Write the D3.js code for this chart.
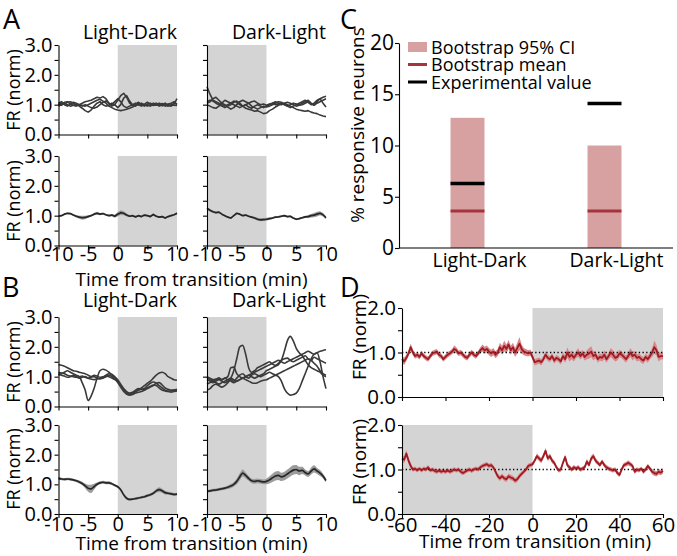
<!DOCTYPE html>
<html><head><meta charset="utf-8">
<script src="https://cdn.jsdelivr.net/npm/d3@7"></script>
<style>
body{margin:0;background:#fff;}
svg{font-family:"Open Sans",sans-serif;display:block;}
</style></head><body>
<svg id="c" width="677" height="556"></svg>
<script>
// ---------------- DATA ----------------
const tMin = d3.range(-10, 10.001, 0.5);   // sample times (min), panels A & B
const tHour = d3.range(-60, 60.001, 1);    // sample times (min), panel D
const xTicksShort = [-10, -5, 0, 5, 10];
const xTicksLong = [-60, -40, -20, 0, 20, 40, 60];
const yTicksFR3 = [0, 0.5, 1, 1.5, 2, 2.5, 3];
const yLabelsFR3 = [0, 1, 2, 3];
const yTicksFR2 = [0, 0.5, 1, 1.5, 2];
const yLabelsFR2 = [0, 1, 2];
const conditions = ["Light-Dark", "Dark-Light"];

// Panel A: example neurons (individual traces)
const aLD1 = [1.0,1.05,1.02,1.08,1.1,1.05,0.98,1.0,1.05,1.1,1.12,1.15,1.2,1.25,1.22,1.27,1.2,1.05,0.95,1.0,1.15,1.3,1.38,1.25,1.05,0.98,1.02,1.08,1.0,0.95,1.02,1.05,0.98,1.02,0.95,1.0,1.05,0.98,0.95,1.02,1.2];
const aLD2 = [1.02,0.98,1.05,1.0,0.95,0.98,1.02,0.95,0.88,0.8,0.75,0.82,0.95,1.05,1.1,1.0,0.95,0.98,1.05,1.0,0.9,1.0,1.22,1.3,1.12,1.0,0.95,1.05,1.02,0.98,1.0,0.95,1.02,1.05,1.0,0.96,1.03,1.0,0.97,1.05,1.02];
const aLD3 = [0.95,1.0,1.08,1.1,1.02,0.98,0.95,1.0,0.98,0.95,1.0,1.05,1.1,1.15,1.18,1.12,1.05,0.95,0.9,0.85,0.82,0.8,0.82,0.85,0.88,0.92,0.98,1.0,1.05,1.0,0.95,1.0,1.05,0.98,1.0,1.04,0.98,0.95,1.0,0.98,0.97];
const aLD4 = [1.05,1.1,1.0,0.95,1.02,1.08,1.05,1.0,0.95,1.0,0.95,0.9,0.88,0.92,1.0,1.08,1.12,1.05,1.0,1.1,1.2,1.1,0.95,0.9,0.95,1.0,1.05,1.0,0.95,1.02,1.08,1.02,0.97,1.0,1.05,1.0,0.95,1.02,1.05,1.1,1.0];
const aDL1 = [1.6,1.35,1.15,1.1,1.05,1.0,0.95,1.0,1.05,1.0,0.95,0.9,0.95,1.0,0.92,0.88,0.95,1.0,0.95,0.9,0.95,1.0,1.05,1.0,1.02,1.05,1.0,0.95,1.0,1.05,1.02,0.98,1.05,1.1,1.15,1.05,1.0,1.1,1.2,1.25,1.28];
const aDL2 = [1.1,1.15,1.12,1.05,1.0,0.95,0.9,0.95,1.0,1.08,1.12,1.05,0.95,0.88,0.85,0.82,0.78,0.8,0.75,0.7,0.72,0.8,0.85,0.92,0.98,1.02,1.05,1.0,0.95,0.9,0.85,0.82,0.8,0.78,0.8,0.75,0.72,0.7,0.65,0.62,0.6];
const aDL3 = [1.05,1.1,1.2,1.25,1.15,1.05,1.0,0.92,0.85,0.9,1.0,1.1,1.15,1.1,1.05,0.95,0.9,0.85,0.9,0.95,0.92,0.95,1.0,1.05,1.1,1.08,1.02,0.95,0.9,0.95,1.0,1.05,1.1,1.15,1.08,1.0,1.05,1.15,1.2,1.05,0.92];
const aDL4 = [1.0,0.95,0.9,0.88,0.95,1.05,1.15,1.1,1.05,1.12,1.08,1.0,0.95,1.0,1.05,1.1,1.12,1.05,1.0,1.02,0.98,1.02,1.05,1.1,1.05,1.0,1.05,1.08,1.05,1.0,0.95,0.98,1.0,1.05,1.1,1.02,0.98,1.05,1.1,1.15,1.2];
// Panel A: population mean +/- sem
const aMeanLD = [0.98,1.0,1.05,1.08,1.07,1.02,0.98,0.95,0.93,0.94,0.97,1.0,1.05,1.08,1.05,1.07,1.03,1.0,1.02,0.98,1.05,1.1,1.08,1.02,0.98,1.0,0.96,1.0,0.97,1.02,1.0,0.97,1.04,0.98,0.95,0.97,0.92,0.97,1.0,1.03,1.08];
const aSemLD = [0.03,0.03,0.03,0.03,0.03,0.03,0.04,0.05,0.07,0.06,0.04,0.03,0.04,0.05,0.04,0.03,0.03,0.03,0.04,0.05,0.07,0.08,0.07,0.05,0.03,0.03,0.03,0.03,0.03,0.03,0.03,0.03,0.03,0.03,0.03,0.03,0.03,0.03,0.03,0.03,0.04];
const aMeanDL = [1.25,1.18,1.13,1.1,1.12,1.05,1.0,0.95,0.92,1.0,1.08,1.05,1.0,1.02,0.98,0.95,0.92,0.88,0.86,0.87,0.88,0.9,0.92,0.95,0.96,0.98,1.0,0.97,0.98,0.92,0.88,0.9,0.93,0.96,0.97,1.0,1.02,1.05,1.08,1.03,0.93];
const aSemDL = [0.04,0.04,0.04,0.03,0.03,0.03,0.03,0.03,0.03,0.03,0.03,0.03,0.03,0.03,0.03,0.03,0.04,0.05,0.05,0.05,0.05,0.04,0.03,0.03,0.03,0.03,0.03,0.03,0.03,0.03,0.03,0.03,0.03,0.04,0.05,0.06,0.07,0.08,0.07,0.06,0.05];

// Panel B: example neurons
const bLD1 = [1.4,1.38,1.35,1.3,1.25,1.2,1.18,1.15,1.12,1.1,1.05,1.0,1.05,1.02,0.98,1.0,1.02,1.0,0.95,0.9,0.85,0.7,0.55,0.45,0.42,0.45,0.5,0.55,0.62,0.7,0.78,0.85,0.95,1.05,1.12,1.15,1.1,1.0,0.95,0.9,0.88];
const bLD2 = [1.05,1.1,1.15,1.2,1.15,1.1,1.05,1.0,0.8,0.55,0.2,0.35,0.6,0.95,1.2,1.25,1.22,1.15,1.05,0.95,0.85,0.7,0.55,0.42,0.4,0.45,0.5,0.55,0.58,0.6,0.7,0.78,0.82,0.78,0.7,0.62,0.55,0.52,0.52,0.55,0.58];
const bLD3 = [1.15,1.12,1.1,1.05,1.02,1.0,0.98,1.0,1.02,0.98,0.95,0.98,1.0,0.95,0.92,0.95,1.0,1.05,1.0,0.92,0.8,0.65,0.5,0.42,0.38,0.4,0.45,0.48,0.5,0.55,0.62,0.68,0.72,0.7,0.62,0.55,0.52,0.5,0.48,0.5,0.52];
const bLD4 = [1.1,1.05,1.02,0.98,1.0,1.05,1.0,0.95,0.98,1.0,0.95,0.92,0.9,0.92,0.95,0.98,1.05,1.1,1.08,1.0,0.9,0.75,0.6,0.5,0.45,0.48,0.55,0.6,0.58,0.55,0.6,0.65,0.7,0.78,0.8,0.72,0.62,0.58,0.55,0.55,0.55];
const bDL1 = [0.9,0.85,0.8,0.85,0.9,0.85,0.8,0.85,0.95,1.2,1.6,2.0,2.05,1.75,1.3,1.15,1.2,1.3,1.35,1.4,1.45,1.5,1.42,1.38,1.45,1.55,1.6,1.62,1.55,1.5,1.55,1.6,1.65,1.7,1.6,1.55,1.65,1.6,1.55,1.5,1.45];
const bDL2 = [0.75,0.8,0.85,0.8,0.75,0.8,0.85,0.9,0.95,0.9,0.85,0.9,0.95,1.0,1.05,1.0,0.95,1.0,1.05,1.1,1.2,1.25,1.3,1.35,1.4,1.55,1.85,2.2,2.35,2.2,1.95,1.8,1.7,1.55,1.4,1.3,1.25,1.2,1.15,1.05,1.0];
const bDL3 = [0.55,0.6,0.7,0.75,0.7,0.65,0.7,0.8,0.9,0.85,0.95,1.05,1.1,1.0,0.95,1.05,1.1,1.05,1.0,1.05,1.1,1.15,1.1,1.05,1.0,0.85,0.6,0.45,0.38,0.4,0.45,0.6,0.85,1.1,1.35,1.6,1.75,1.8,1.5,1.0,0.6];
const bDL4 = [0.95,0.9,0.85,0.9,0.95,0.9,0.95,1.0,1.3,1.32,1.1,1.0,0.95,1.0,1.05,1.1,1.15,1.2,1.25,1.3,1.35,1.4,1.45,1.5,1.55,1.5,1.45,1.5,1.55,1.6,1.65,1.7,1.75,1.8,1.85,1.8,1.75,1.8,1.85,1.88,1.9];
const bDL5 = [1.0,0.95,0.9,0.92,0.95,0.9,0.95,0.9,0.85,0.8,0.85,0.9,0.95,0.9,0.85,0.8,0.78,0.8,0.85,0.88,0.9,0.95,1.0,1.05,1.1,1.15,1.2,1.25,1.3,1.35,1.4,1.45,1.5,1.55,1.6,1.55,1.45,1.35,1.2,1.1,1.05];
// Panel B: population mean +/- sem
const bMeanLD = [1.2,1.18,1.17,1.18,1.17,1.15,1.12,1.08,1.03,0.95,0.87,0.85,0.92,1.0,1.05,1.07,1.05,1.05,1.02,0.97,0.92,0.82,0.65,0.53,0.49,0.5,0.52,0.54,0.56,0.58,0.62,0.65,0.7,0.78,0.82,0.78,0.72,0.7,0.68,0.66,0.67];
const bSemLD = [0.04,0.04,0.04,0.04,0.04,0.04,0.04,0.05,0.06,0.08,0.12,0.14,0.1,0.06,0.05,0.05,0.05,0.05,0.04,0.04,0.04,0.04,0.04,0.04,0.04,0.04,0.04,0.04,0.04,0.04,0.05,0.05,0.05,0.06,0.08,0.07,0.06,0.05,0.05,0.05,0.05];
const bMeanDL = [0.77,0.78,0.8,0.81,0.83,0.85,0.87,0.9,0.94,1.0,1.1,1.25,1.38,1.3,1.2,1.12,1.1,1.12,1.1,1.08,1.1,1.15,1.22,1.28,1.3,1.25,1.28,1.35,1.42,1.48,1.5,1.45,1.47,1.4,1.35,1.45,1.52,1.45,1.38,1.28,1.13];
const bSemDL = [0.05,0.05,0.05,0.05,0.05,0.05,0.05,0.06,0.07,0.08,0.1,0.12,0.12,0.1,0.08,0.08,0.08,0.08,0.08,0.08,0.1,0.12,0.14,0.15,0.15,0.14,0.14,0.15,0.16,0.16,0.15,0.14,0.12,0.1,0.1,0.12,0.12,0.1,0.1,0.08,0.07];

// Panel C: % responsive neurons
const ciLow = [0, 0];
const ciHigh = [12.7, 10.0];
const bootMean = [3.6, 3.6];
const expValue = [6.3, 14.1];
const legendLabels = ["Bootstrap 95% CI", "Bootstrap mean", "Experimental value"];
const yTicksC = [0, 5, 10, 15, 20];

// Panel D: population mean +/- sem over 2 h
const dMeanLD = [0.85,0.8,0.88,0.98,1.12,1.0,0.92,0.95,0.9,0.98,
 0.92,0.88,0.85,0.92,0.98,1.0,1.02,0.95,0.92,0.85,
 0.9,0.95,0.98,1.02,1.08,1.05,0.98,1.0,0.95,0.9,
 0.88,0.95,1.0,0.95,0.92,0.98,1.05,1.1,1.05,1.08,
 1.02,0.98,1.02,0.95,1.0,1.12,1.05,1.15,1.08,1.18,
 1.05,1.12,1.0,1.1,1.2,1.08,1.02,1.0,0.98,1.0,
 0.9,0.78,0.8,0.82,0.78,0.85,0.95,0.88,0.85,0.92,
 0.82,0.88,0.85,0.8,0.92,0.85,1.0,0.9,0.95,0.88,
 0.95,1.0,0.92,0.98,0.9,0.95,0.98,1.02,0.92,0.95,
 0.85,0.9,0.88,0.95,0.85,0.92,1.0,0.95,0.88,0.9,
 0.98,0.95,0.9,0.85,0.92,1.0,0.92,0.95,0.88,0.9,
 0.85,0.82,0.9,0.85,0.92,1.0,1.12,1.05,0.9,0.92,
 0.92];
const dSemLD = [0.08,0.08,0.07,0.07,0.08,0.07,0.06,0.06,0.06,0.06,
 0.06,0.06,0.06,0.06,0.06,0.06,0.06,0.06,0.06,0.06,
 0.06,0.06,0.06,0.06,0.08,0.07,0.06,0.06,0.06,0.06,
 0.06,0.06,0.06,0.06,0.06,0.06,0.07,0.08,0.08,0.08,
 0.08,0.08,0.08,0.08,0.08,0.1,0.1,0.12,0.1,0.1,
 0.1,0.1,0.1,0.12,0.15,0.1,0.08,0.08,0.07,0.07,
 0.07,0.07,0.07,0.07,0.07,0.07,0.08,0.07,0.07,0.07,
 0.07,0.07,0.07,0.07,0.08,0.08,0.12,0.1,0.1,0.08,
 0.08,0.1,0.08,0.08,0.08,0.1,0.12,0.12,0.1,0.08,
 0.08,0.08,0.08,0.1,0.08,0.08,0.1,0.1,0.08,0.08,
 0.08,0.08,0.08,0.08,0.08,0.1,0.1,0.08,0.08,0.08,
 0.08,0.08,0.08,0.08,0.08,0.1,0.15,0.12,0.1,0.08,
 0.08];
const dMeanDL = [1.25,1.22,1.36,1.2,1.08,1.0,1.02,0.98,1.02,0.98,
 1.02,1.0,1.05,0.98,1.0,0.97,0.95,0.98,0.95,0.97,
 0.95,0.98,0.95,0.97,1.0,0.98,1.0,0.95,0.92,0.95,
 0.98,1.0,0.97,1.0,1.02,1.0,1.05,1.08,1.1,1.12,
 1.08,1.1,1.05,0.95,0.85,0.8,0.85,0.8,0.78,0.85,
 0.82,0.8,0.75,0.78,0.85,0.9,0.95,1.0,1.08,1.1,
 1.12,1.2,1.3,1.25,1.2,1.3,1.42,1.25,1.3,1.2,
 1.15,1.05,0.98,1.0,1.15,1.28,1.1,1.05,1.0,1.05,
 1.02,1.05,1.0,1.02,1.05,1.18,1.1,1.25,1.3,1.2,
 1.15,1.1,1.18,1.1,1.05,1.02,1.0,0.98,1.0,0.92,
 0.88,1.0,1.1,1.12,1.15,1.12,1.08,0.95,1.0,0.98,
 1.02,0.95,1.0,1.08,1.02,0.95,0.92,0.9,0.95,0.93,
 0.97];
const dSemDL = [0.07,0.08,0.08,0.07,0.06,0.05,0.05,0.05,0.05,0.05,
 0.05,0.05,0.05,0.05,0.05,0.05,0.05,0.05,0.05,0.05,
 0.05,0.05,0.05,0.05,0.05,0.05,0.05,0.05,0.05,0.05,
 0.05,0.05,0.05,0.05,0.05,0.05,0.05,0.05,0.05,0.05,
 0.05,0.05,0.05,0.06,0.06,0.06,0.06,0.06,0.06,0.06,
 0.06,0.06,0.06,0.06,0.06,0.05,0.05,0.05,0.05,0.05,
 0.05,0.05,0.06,0.06,0.06,0.06,0.07,0.06,0.06,0.06,
 0.05,0.05,0.05,0.05,0.05,0.06,0.05,0.05,0.05,0.05,
 0.05,0.05,0.05,0.05,0.05,0.06,0.05,0.06,0.06,0.06,
 0.05,0.05,0.05,0.05,0.05,0.05,0.05,0.05,0.05,0.05,
 0.05,0.05,0.05,0.05,0.06,0.05,0.05,0.05,0.05,0.05,
 0.05,0.05,0.05,0.05,0.05,0.06,0.06,0.06,0.06,0.06,
 0.06];

// ---------------- DRAWING ----------------
const svg = d3.select("#c");
const FONT = '"Open Sans", sans-serif';
const SHADE = "#d4d4d4";

function styleAxis(g, size) {
  g.attr("font-family", FONT).attr("font-size", size);
  g.selectAll("path, line").attr("stroke", "#000").attr("stroke-width", 1.1);
  g.selectAll("text").attr("fill", "#000");
}

function timePanel(o) {
  const g = svg.append("g");
  const x = d3.scaleLinear().domain(o.xDomain).range([o.x0, o.x1]);
  const y = d3.scaleLinear().domain(o.yDomain).range([o.y1, o.y0]);
  g.append("rect")
    .attr("x", x(o.shade[0])).attr("y", y(o.yDomain[1]))
    .attr("width", x(o.shade[1]) - x(o.shade[0]))
    .attr("height", y(o.yDomain[0]) - y(o.yDomain[1]))
    .attr("fill", SHADE);
  const curve = o.curve || d3.curveLinear;
  if (o.mean && o.sem) {
    const area = d3.area()
      .x((d, i) => x(o.t[i]))
      .y0((d, i) => y(o.mean[i] - o.sem[i]))
      .y1((d, i) => y(o.mean[i] + o.sem[i]))
      .curve(curve);
    g.append("path").datum(o.mean).attr("d", area).attr("fill", o.bandColor);
  }
  if (o.dotted) {
    g.append("line")
      .attr("x1", x(o.xDomain[0])).attr("x2", x(o.xDomain[1]))
      .attr("y1", y(1)).attr("y2", y(1))
      .attr("stroke", "#000").attr("stroke-width", 1.3)
      .attr("stroke-dasharray", "1.3,2.4");
  }
  const line = d3.line().x((d, i) => x(o.t[i])).y(d => y(d)).curve(curve);
  (o.traces || []).forEach(tr => {
    g.append("path").datum(tr).attr("d", line)
      .attr("fill", "none").attr("stroke", o.traceColor)
      .attr("stroke-width", 1.6).attr("stroke-linejoin", "round");
  });
  if (o.mean) {
    g.append("path").datum(o.mean).attr("d", line)
      .attr("fill", "none").attr("stroke", o.lineColor)
      .attr("stroke-width", o.lineWidth || 1.7).attr("stroke-linejoin", "round");
  }
  const yAx = d3.axisLeft(y).tickValues(o.yTicks).tickSize(4).tickSizeOuter(0).tickPadding(2)
    .tickFormat(d => (o.yLabels && o.yLabelVals.includes(d)) ? d.toFixed(1) : "");
  const gy = g.append("g").attr("transform", `translate(${o.x0},0)`).call(yAx);
  styleAxis(gy, o.tickFont);
  const xAx = d3.axisBottom(x).tickValues(o.xTicks).tickSize(4).tickSizeOuter(0)
    .tickFormat(d => o.xLabels ? String(d) : "");
  const gx = g.append("g").attr("transform", `translate(0,${o.y1})`).call(xAx);
  gx.selectAll("text").attr("y", o.xLabelBase).attr("dy", null);
  styleAxis(gx, o.tickFont);
  return g;
}

function text(x, y, s, size, anchor, rotate) {
  const t = svg.append("text").attr("font-family", FONT).attr("font-size", size)
    .attr("text-anchor", anchor || "start").text(s);
  if (rotate) t.attr("transform", `translate(${x},${y}) rotate(-90)`);
  else t.attr("x", x).attr("y", y);
  return t;
}

const LX = [58.5, 177], RX = [207, 326];
const GREY_TR = "#3a3a3a", GREY_MEAN = "#262626", GREY_BAND = "#9c9c9c";
const base = { t: tMin, xDomain: [-10, 10], yDomain: [0, 3], yTicks: yTicksFR3, yLabelVals: yLabelsFR3,
  xTicks: xTicksShort, tickFont: 20, xLabelBase: 15, traceColor: GREY_TR, lineColor: GREY_MEAN, bandColor: GREY_BAND };

// Panel A
timePanel({...base, x0: LX[0], x1: LX[1], y0: 45, y1: 134.5, shade: [0, 10], yLabels: true, traces: [aLD1, aLD2, aLD3, aLD4]});
timePanel({...base, x0: RX[0], x1: RX[1], y0: 45, y1: 134.5, shade: [-10, 0], traces: [aDL1, aDL2, aDL3, aDL4]});
timePanel({...base, x0: LX[0], x1: LX[1], y0: 156, y1: 245.5, shade: [0, 10], yLabels: true, xLabels: true, mean: aMeanLD, sem: aSemLD});
timePanel({...base, x0: RX[0], x1: RX[1], y0: 156, y1: 245.5, shade: [-10, 0], xLabels: true, mean: aMeanDL, sem: aSemDL});
// Panel B
timePanel({...base, x0: LX[0], x1: LX[1], y0: 317, y1: 406.5, shade: [0, 10], yLabels: true, traces: [bLD1, bLD2, bLD3, bLD4], curve: d3.curveMonotoneX});
timePanel({...base, x0: RX[0], x1: RX[1], y0: 317, y1: 406.5, shade: [-10, 0], traces: [bDL1, bDL2, bDL3, bDL4, bDL5], curve: d3.curveMonotoneX});
timePanel({...base, x0: LX[0], x1: LX[1], y0: 425, y1: 514, shade: [0, 10], yLabels: true, xLabels: true, xLabelBase: 17, mean: bMeanLD, sem: bSemLD, curve: d3.curveMonotoneX});
timePanel({...base, x0: RX[0], x1: RX[1], y0: 425, y1: 514, shade: [-10, 0], xLabels: true, xLabelBase: 17, mean: bMeanDL, sem: bSemDL, curve: d3.curveMonotoneX});
// Panel D
const dBase = { t: tHour, xDomain: [-60, 60], yDomain: [0, 2], yTicks: yTicksFR2, yLabelVals: yLabelsFR2, yLabels: true,
  xTicks: xTicksLong, tickFont: 20.5, xLabelBase: 18, lineColor: "#9e1b22", bandColor: "#d9898d", lineWidth: 1.8, dotted: true };
timePanel({...dBase, x0: 402, x1: 663, y0: 308, y1: 397, shade: [0, 60], mean: dMeanLD, sem: dSemLD});
timePanel({...dBase, x0: 402, x1: 663, y0: 425, y1: 514, shade: [-60, 0], xLabels: true, mean: dMeanDL, sem: dSemDL});

// Titles A/B
text(LX[1], 39, conditions[0], 19.5, "end");
text(RX[1], 39, conditions[1], 19.5, "end");
text(LX[1], 307, conditions[0], 19.5, "end");
text(RX[1], 307, conditions[1], 19.5, "end");
// Y titles
text(20, 90, "FR (norm)", 18, "middle", true);
text(20, 201, "FR (norm)", 18, "middle", true);
text(20, 362, "FR (norm)", 18, "middle", true);
text(20, 469, "FR (norm)", 18, "middle", true);
text(366, 337, "FR (norm)", 19, "middle", true);
text(366, 462, "FR (norm)", 19, "middle", true);
// X titles
text(191.5, 286, "Time from transition (min)", 19, "middle");
text(191.5, 550, "Time from transition (min)", 19, "middle");
text(535, 548, "Time from transition (min)", 19, "middle");
// Panel letters
text(3, 29, "A", 27);
text(2, 297, "B", 27);
text(340, 29, "C", 27);
text(340, 297, "D", 27);

// Panel C
(function () {
  const g = svg.append("g");
  const x = d3.scaleBand().domain(conditions).range([399, 673]).paddingInner(0.752).paddingOuter(0.376);
  const y = d3.scaleLinear().domain([0, 20]).range([248, 43]);
  const CI = "#d7a1a2", MEAN = "#a8343b";
  g.selectAll("rect.ci").data(conditions).join("rect")
    .attr("x", d => x(d)).attr("width", x.bandwidth())
    .attr("y", (d, i) => y(ciHigh[i])).attr("height", (d, i) => y(ciLow[i]) - y(ciHigh[i]))
    .attr("fill", CI);
  g.selectAll("line.m").data(conditions).join("line")
    .attr("x1", d => x(d)).attr("x2", d => x(d) + x.bandwidth())
    .attr("y1", (d, i) => y(bootMean[i])).attr("y2", (d, i) => y(bootMean[i]))
    .attr("stroke", MEAN).attr("stroke-width", 3);
  g.selectAll("line.e").data(conditions).join("line")
    .attr("x1", d => x(d)).attr("x2", d => x(d) + x.bandwidth())
    .attr("y1", (d, i) => y(expValue[i])).attr("y2", (d, i) => y(expValue[i]))
    .attr("stroke", "#000").attr("stroke-width", 3.5);
  const gy = g.append("g").attr("transform", "translate(399,0)")
    .call(d3.axisLeft(y).tickValues(yTicksC).tickSize(4).tickSizeOuter(0).tickPadding(1).tickFormat(d3.format("d")));
  styleAxis(gy, 21);
  const gx = g.append("g").attr("transform", "translate(0,248)")
    .call(d3.axisBottom(x).tickSize(0).tickSizeOuter(0).tickFormat(""));
  styleAxis(gx, 19);
  gx.select(".domain").attr("d", "M399,0H673");
  g.selectAll("text.cat").data(conditions).join("text")
    .attr("x", d => x(d) + x.bandwidth() / 2 + 12).attr("y", 267)
    .attr("text-anchor", "middle").attr("font-family", FONT).attr("font-size", 19.5).text(d => d);
  text(364, 125, "% responsive neurons", 19, "middle", true);
  // legend
  const lg = g.append("g");
  legendLabels.forEach((lab, i) => {
    const yy = 47 + i * 17.5;
    if (i === 0) lg.append("rect").attr("x", 408).attr("y", yy - 5).attr("width", 19).attr("height", 10).attr("fill", CI);
    else lg.append("line").attr("x1", 408).attr("x2", 427).attr("y1", yy).attr("y2", yy)
      .attr("stroke", i === 1 ? MEAN : "#000").attr("stroke-width", 3);
    lg.append("text").attr("x", 431).attr("y", yy + 6.5).attr("font-family", FONT).attr("font-size", 18).text(lab);
  });
})();
</script>
</body></html>
